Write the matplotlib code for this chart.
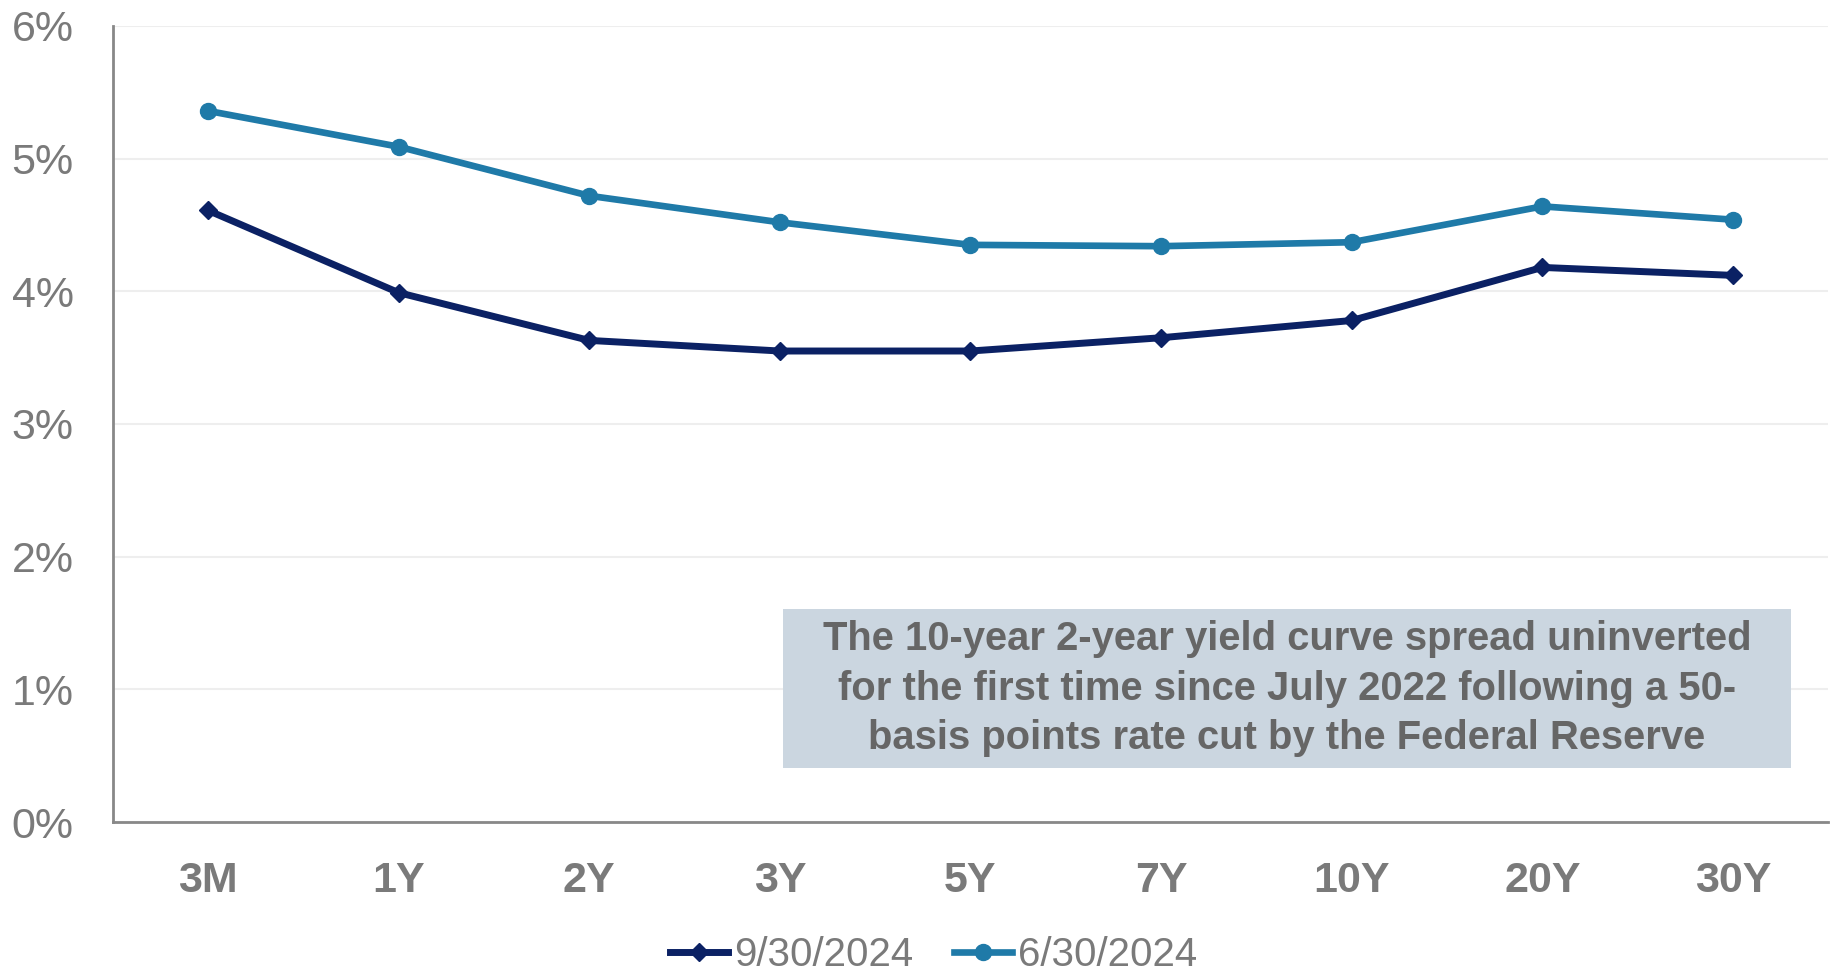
import matplotlib.pyplot as plt
from matplotlib.patches import Rectangle

# yield curve data (percent)
tenors = ['3M', '1Y', '2Y', '3Y', '5Y', '7Y', '10Y', '20Y', '30Y']
yields_sep = [4.61, 3.99, 3.63, 3.55, 3.55, 3.65, 3.78, 4.18, 4.12]
yields_jun = [5.36, 5.09, 4.72, 4.52, 4.35, 4.34, 4.37, 4.64, 4.54]
label_sep = '9/30/2024'
label_jun = '6/30/2024'
y_ticks = [0, 1, 2, 3, 4, 5, 6]
note = ('The 10-year 2-year yield curve spread uninverted\n'
        'for the first time since July 2022 following a 50-\n'
        'basis points rate cut by the Federal Reserve')

navy = '#0b2164'
teal = '#1f7aa8'
grey = '#7a7a7a'

plt.rcParams['font.family'] = ['Liberation Sans', 'DejaVu Sans']

fig = plt.figure(figsize=(18.34, 9.72), dpi=100)
ax = fig.add_axes([0.0614, 0.1543, 0.9355, 0.819])

x = list(range(len(tenors)))
ax.plot(x, yields_sep, color=navy, lw=5.0, marker='D', ms=9, label=label_sep)
ax.plot(x, yields_jun, color=teal, lw=4.8, marker='o', ms=11.5, label=label_jun)

ax.set_xlim(-0.5, len(tenors) - 0.5)
ax.set_ylim(0, 6)
ax.set_yticks(y_ticks)
ax.set_yticklabels([f'{v}%' for v in y_ticks], fontsize=31, color=grey)
ax.set_xticks(x)
ax.set_xticklabels(tenors, fontsize=31, fontweight='bold', color=grey)
ax.tick_params(axis='both', length=0)
ax.tick_params(axis='y', pad=28)
ax.tick_params(axis='x', pad=28)

ax.grid(axis='y', color='#eeeeee', lw=1.5)
ax.set_axisbelow(True)
for s in ['top', 'right']:
    ax.spines[s].set_visible(False)
for s in ['left', 'bottom']:
    ax.spines[s].set_color('#888888')
    ax.spines[s].set_linewidth(2)

# annotation box
ax.add_patch(Rectangle((0.391, 0.0678), 0.587, 0.1997, transform=ax.transAxes,
                       facecolor='#cbd6e0', edgecolor='none', zorder=3))
ax.text(0.6845, 0.1677, note, transform=ax.transAxes, ha='center', va='center',
        fontsize=28.8, fontweight='bold', color='#666666', linespacing=1.38,
        zorder=4)

fig.legend(loc='center', bbox_to_anchor=(0.509, 0.0175), ncol=2, frameon=False,
           fontsize=29, labelcolor=grey, handlelength=1.45, handletextpad=0.15,
           columnspacing=1.0, borderpad=0)

fig.savefig('out.png', dpi=100)
